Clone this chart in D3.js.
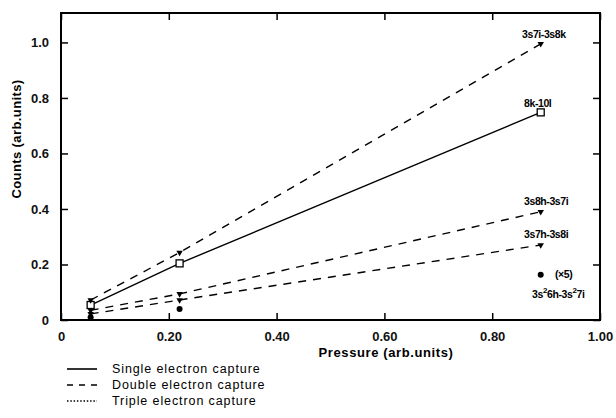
<!DOCTYPE html>
<html>
<head>
<meta charset="utf-8">
<script src="https://cdn.jsdelivr.net/npm/d3@7"></script>
<style>
  body { margin: 0; background: #fff; }
  text { font-family: "Liberation Sans", Arial, sans-serif; }
</style>
</head>
<body>
<div id="root"></div>
<script>
// Pressure values at which counts were measured
const pressures = [0.055, 0.22, 0.89]

// Series values (counts, arb. units)
const single8k10l = [0.054, 0.204, 0.748]
const double3s7i3s8k = [0.072, 0.243, 0.995]
const double3s8h3s7i = [0.035, 0.094, 0.39]
const double3s7h3s8i = [0.022, 0.072, 0.27]
const core3s26h = [0.01, 0.04, 0.163]

const xTicks = [0, 0.2, 0.4, 0.6, 0.8, 1.0]
const xTickLabels = ['0', '0.20', '0.40', '0.60', '0.80', '1.00']
const yTicks = [0, 0.2, 0.4, 0.6, 0.8, 1.0]
const yTickLabels = ['0', '0.2', '0.4', '0.6', '0.8', '1.0']

const legendLabels = ['Single electron capture', 'Double electron capture', 'Triple electron capture']

// Dimensions
const W = 616, H = 418
const margin = { top: 13, right: 16, bottom: 98, left: 61 }
const width = W - margin.left - margin.right
const height = H - margin.top - margin.bottom

const x = d3.scaleLinear().domain([0, 1]).range([0, width])
const y = d3.scaleLinear().domain([0, 1.106]).range([height, 0])

const svg = d3.select('#root').append('svg')
  .attr('width', W)
  .attr('height', H)

const g = svg.append('g')
  .attr('transform', `translate(${margin.left},${margin.top})`)

// Frame
g.append('rect')
  .attr('width', width).attr('height', height)
  .attr('fill', 'none').attr('stroke', '#000').attr('stroke-width', 2)

// Axes with inward ticks
const styleAxis = sel => {
  sel.select('.domain').remove()
  sel.selectAll('line').attr('stroke', '#000').attr('stroke-width', 1.5)
  sel.selectAll('text')
    .style('font-size', '13px').style('font-weight', 'bold').attr('fill', '#111')
}

g.append('g')
  .attr('transform', `translate(0,${height})`)
  .call(d3.axisBottom(x).tickValues(xTicks).tickSizeInner(-7).tickSizeOuter(0)
    .tickPadding(12).tickFormat((d, i) => xTickLabels[i]))
  .call(styleAxis)

g.append('g')
  .call(d3.axisTop(x).tickValues(xTicks).tickSizeInner(-7).tickSizeOuter(0).tickFormat(''))
  .call(styleAxis)

g.append('g')
  .call(d3.axisLeft(y).tickValues(yTicks).tickSizeInner(-7).tickSizeOuter(0)
    .tickPadding(12).tickFormat((d, i) => yTickLabels[i]))
  .call(styleAxis)

g.append('g')
  .attr('transform', `translate(${width},0)`)
  .call(d3.axisRight(y).tickValues(yTicks).tickSizeInner(-7).tickSizeOuter(0).tickFormat(''))
  .call(styleAxis)

// Axis titles
svg.append('text')
  .attr('x', 386).attr('y', 357)
  .attr('text-anchor', 'middle')
  .style('font-size', '13px').style('font-weight', '600')
  .style('letter-spacing', '0.6px')
  .text('Pressure (arb.units)')

svg.append('text')
  .attr('transform', 'translate(21,139) rotate(-90)')
  .attr('text-anchor', 'middle')
  .style('font-size', '13px').style('font-weight', '600')
  .style('letter-spacing', '0.4px')
  .text('Counts (arb.units)')

// Lines
const line = d3.line()
  .x((d, i) => x(pressures[i]))
  .y(d => y(d))

const series = [
  { values: single8k10l, dash: null, marker: 'square' },
  { values: double3s7i3s8k, dash: '8,7', marker: 'tri' },
  { values: double3s8h3s7i, dash: '8,7', marker: 'tri' },
  { values: double3s7h3s8i, dash: '8,7', marker: 'tri' }
]

series.forEach(s => {
  g.append('path')
    .datum(s.values)
    .attr('fill', 'none')
    .attr('stroke', '#000')
    .attr('stroke-width', 1.4)
    .attr('stroke-dasharray', s.dash)
    .attr('d', line)
})

// Markers
const tri = d3.symbol().type(d3.symbolTriangle).size(18)
series.forEach(s => {
  s.values.forEach((v, i) => {
    if (s.marker === 'square') {
      g.append('rect')
        .attr('x', x(pressures[i]) - 3.5).attr('y', y(v) - 3.5)
        .attr('width', 7).attr('height', 7)
        .attr('fill', '#fff').attr('stroke', '#000').attr('stroke-width', 1.3)
    } else {
      g.append('path')
        .attr('d', tri)
        .attr('transform', `translate(${x(pressures[i])},${y(v)}) rotate(180)`)
        .attr('fill', '#000')
    }
  })
})

g.selectAll('.dot')
  .data(core3s26h)
  .enter().append('circle')
  .attr('class', 'dot')
  .attr('cx', (d, i) => x(pressures[i]))
  .attr('cy', d => y(d))
  .attr('r', 3)
  .attr('fill', '#000')

// Point labels
const lab = (px, py, txt) => {
  return svg.append('text')
    .attr('x', px).attr('y', py)
    .style('font-size', '10.5px').style('font-weight', 'bold')
    .style('letter-spacing', '-0.4px')
    .text(txt)
}
lab(522, 38, '3s7i-3s8k')
lab(524, 107, '8k-10l')
lab(524, 205, '3s8h-3s7i')
lab(524, 238, '3s7h-3s8i')
lab(555, 278, '(×5)')
const t = lab(532, 298, '3s')
t.append('tspan').attr('dy', -5).style('font-size', '8px').text('2')
t.append('tspan').attr('dy', 5).text('6h-3s')
t.append('tspan').attr('dy', -5).style('font-size', '8px').text('2')
t.append('tspan').attr('dy', 5).text('7i')

// Legend
const dashes = [null, '6,6', '1.5,1.8']
const legend = svg.append('g')
legendLabels.forEach((l, i) => {
  const ly = 369 + i * 16
  legend.append('line')
    .attr('x1', 67).attr('x2', 97)
    .attr('y1', ly).attr('y2', ly)
    .attr('stroke', '#000').attr('stroke-width', 1.6)
    .attr('stroke-dasharray', dashes[i])
  legend.append('text')
    .attr('x', 112).attr('y', ly + 4)
    .style('font-size', '12.5px')
    .style('letter-spacing', '0.9px')
    .text(l)
})
</script>
</body>
</html>
